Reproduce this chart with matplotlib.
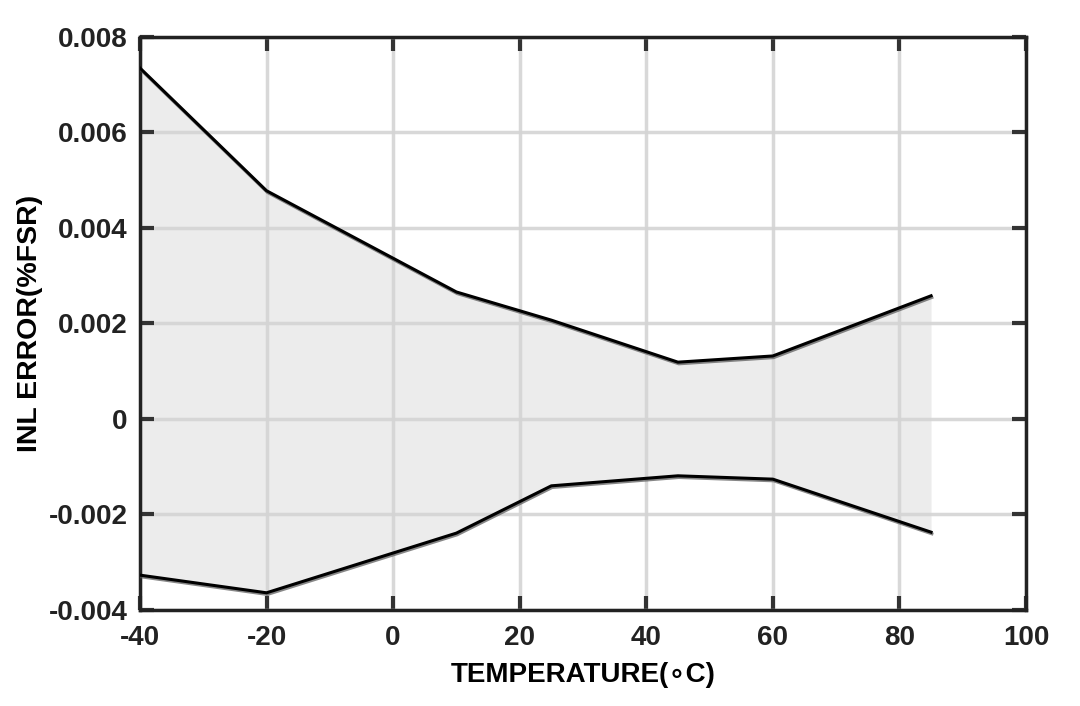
import matplotlib
matplotlib.use("Agg")
import matplotlib.pyplot as plt
import matplotlib.patheffects as pe

# data
temperature = [-40, -20, 10, 25, 45, 60, 85]
inl_upper = [0.00735, 0.00478, 0.00266, 0.00207, 0.00119, 0.00132, 0.00258]
inl_lower = [-0.00327, -0.00364, -0.00239, -0.00140, -0.00119, -0.00126, -0.00237]

x_ticks = [-40, -20, 0, 20, 40, 60, 80, 100]
y_ticks = [-0.004, -0.002, 0, 0.002, 0.004, 0.006, 0.008]
y_tick_labels = ["-0.004", "-0.002", "0", "0.002", "0.004", "0.006", "0.008"]

plt.rcParams["font.family"] = ["Liberation Sans", "DejaVu Sans"]
plt.rcParams["font.weight"] = "bold"
plt.rcParams["text.color"] = "#222222"

fig = plt.figure(figsize=(10.8, 7.06), dpi=100)
ax = fig.add_axes([0.1296, 0.136, 0.8204, 0.8116])

ax.fill_between(temperature, inl_lower, inl_upper, color="#ececec", zorder=0.2, linewidth=0)
shadow = [pe.SimpleLineShadow(offset=(0.6, -1.2), shadow_color="#555555", alpha=0.7), pe.Normal()]
ax.plot(temperature, inl_upper, color="black", lw=2.2, path_effects=shadow, zorder=3)
ax.plot(temperature, inl_lower, color="black", lw=2.2, path_effects=shadow, zorder=3)

ax.set_xlim(-40, 100)
ax.set_ylim(-0.004, 0.008)
ax.set_xticks(x_ticks)
ax.set_xticklabels([str(t) for t in x_ticks])
ax.set_yticks(y_ticks)
ax.set_yticklabels(y_tick_labels)

ax.set_axisbelow(True)
ax.grid(True, color="#d4d4d4", lw=2.5, alpha=0.9)
for s in ax.spines.values():
    s.set_linewidth(2.5)
    s.set_color("#222222")
ax.tick_params(direction="in", length=10, width=3, color="#333333",
               top=True, right=True, labelsize=20, labelcolor="#222222")
ax.tick_params(axis="x", pad=11)
ax.tick_params(axis="y", pad=9)
for lab in ax.get_xticklabels() + ax.get_yticklabels():
    lab.set_fontweight("bold")

ax.set_xlabel("TEMPERATURE(\u2218C)", fontsize=20, fontweight="bold", labelpad=8)
ax.set_ylabel("INL ERROR(%FSR)", fontsize=20.5, fontweight="bold", labelpad=4)

fig.savefig("out.png", dpi=100)
